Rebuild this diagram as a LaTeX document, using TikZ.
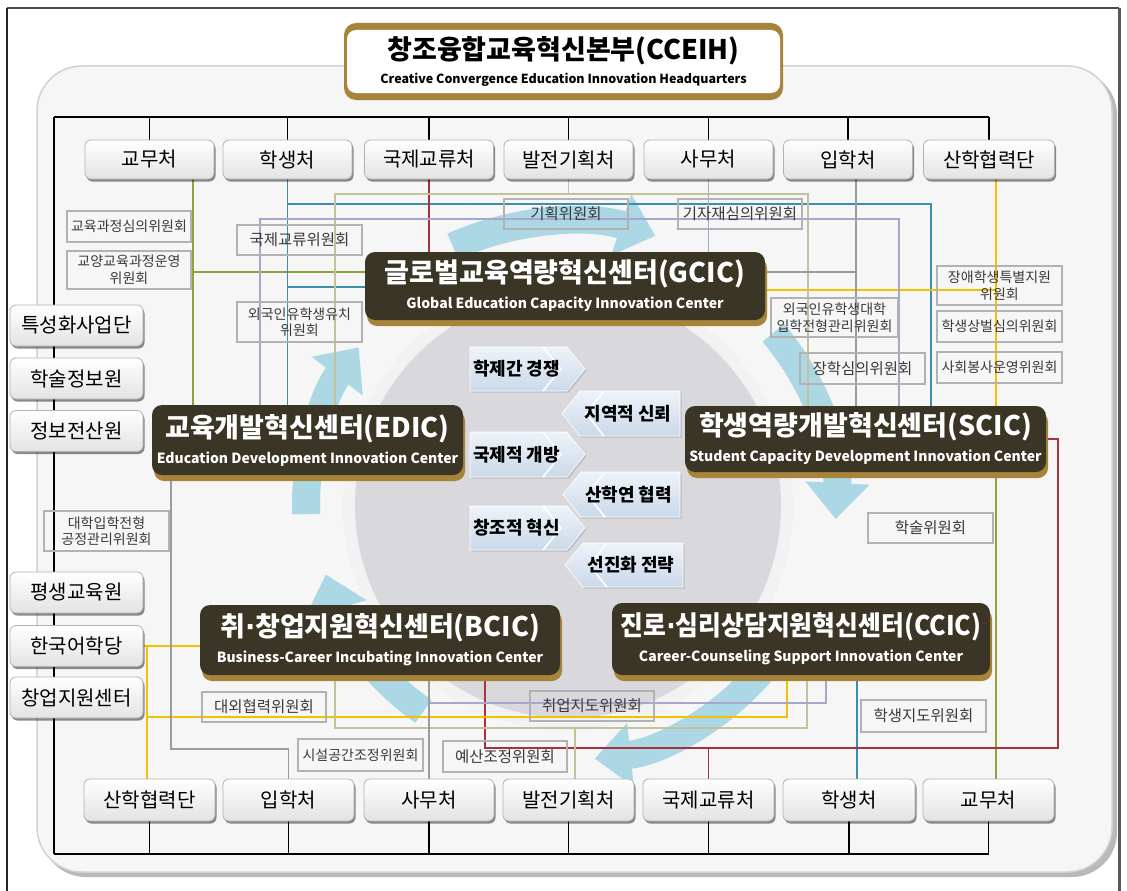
\documentclass[tikz,border=0pt]{standalone}
\usepackage{fontspec}
\setmainfont{Noto Sans CJK KR}
\newfontfamily\dotfont{DejaVu Sans}
\usetikzlibrary{arrows.meta,shadows,calc}
\definecolor{panelc}{HTML}{F6F6F6}
\definecolor{darkc}{HTML}{3A3524}
\definecolor{goldc}{HTML}{A8843A}
\definecolor{ringc}{HTML}{ACD7E5}
\definecolor{diskc}{HTML}{D8D8DD}
\definecolor{lnolive}{HTML}{8FA33C}
\definecolor{lnteal}{HTML}{3C8DB0}
\definecolor{lnred}{HTML}{A4333F}
\definecolor{lnyel}{HTML}{F2C200}
\definecolor{lnkhaki}{HTML}{C4C29A}
\definecolor{lnlav}{HTML}{A7A6CF}
\definecolor{lngray}{HTML}{9C9C9C}
\definecolor{chevtop}{HTML}{EEF3F9}
\definecolor{chevbot}{HTML}{CBD9EA}
\definecolor{commtext}{HTML}{3A3A3A}
\pgfdeclarelayer{back}
\pgfdeclarelayer{lines}
\pgfsetlayers{back,lines,main}
\newcommand\Ttl[1]{{\fontsize{27}{27}\selectfont\bfseries #1}}
\newcommand\Sbt[1]{{\fontsize{14}{16}\selectfont\bfseries #1}}
\newcommand\Mdot{{\dotfont\bfseries ·}}
\newcommand\ChevR[6]{%
  \path[chevfill] (#1,#3) -- (#2-18,#3) -- (#2,{(#3+#4)/2}) -- (#2-18,#4) -- (#1,#4) -- cycle;
  \draw[white, line width=1.6pt] (#2-42,#3) -- (#2-24,{(#3+#4)/2}) -- (#2-42,#4);
  \node[chevtxt] (#5) at ({(#1+#2-22)/2},{(#3+#4)/2}) {#6};}
\newcommand\ChevL[6]{%
  \path[chevfill] (#2,#3) -- (#1+18,#3) -- (#1,{(#3+#4)/2}) -- (#1+18,#4) -- (#2,#4) -- cycle;
  \draw[white, line width=1.6pt] (#1+42,#3) -- (#1+24,{(#3+#4)/2}) -- (#1+42,#4);
  \node[chevtxt] (#5) at ({(#1+#2+14)/2},{(#3+#4)/2}) {#6};}
\begin{document}
\begin{tikzpicture}[x=1pt,y=-1pt,
  btn/.style={rounded corners=6pt, draw=gray!60, line width=0.8pt, top color=white, bottom color=gray!22,
    drop shadow={shadow xshift=1.5pt, shadow yshift=-2.5pt, opacity=0.45, fill=black},
    inner sep=0pt, font=\fontsize{20}{24}\selectfont},
  comm/.style={draw=gray!60, line width=1.1pt, inner sep=0pt, align=center, text=commtext,
    font=\fontsize{14}{16.5}\selectfont},
  commS/.style={comm, font=\fontsize{15.5}{17}\selectfont},
  ctr/.style={rounded corners=10pt, fill=darkc, text=white, align=center, inner sep=0pt,
    drop shadow={shadow xshift=2pt, shadow yshift=-6pt, fill=goldc, opacity=1},
    font=\fontsize{14}{26}\selectfont},
  chevfill/.style={top color=chevtop, bottom color=chevbot, draw=white, line width=0.6pt,
    drop shadow={shadow xshift=1.5pt, shadow yshift=-1.5pt, opacity=0.3}},
  chevtxt/.style={inner sep=0pt, font=\fontsize{18}{20}\selectfont\bfseries},
  bus/.style={draw=black, line width=1.4pt},
  lnO/.style={draw=lnolive, line width=1.4pt},
  lnT/.style={draw=lnteal, line width=1.4pt},
  lnR/.style={draw=lnred, line width=1.4pt},
  lnY/.style={draw=lnyel, line width=1.6pt},
  lnK/.style={draw=lnkhaki, line width=1.4pt},
  lnV/.style={draw=lnlav, line width=1.4pt},
  lnG/.style={draw=lngray, line width=1.4pt},
  ringarr/.style={draw=ringc, line width=28pt, -{Triangle[width=62pt,length=36pt]}}
]
\useasboundingbox (0,0) rectangle (1127,891);

\begin{pgfonlayer}{back}
\fill[white] (0,0) rectangle (1127,891);
\draw[black!70, line width=1.5pt] (7,8) -- (1119,8);
\draw[black!85, line width=1.6pt] (7,8) -- (7,900);
\draw[gray!70!black, line width=3pt] (1119,8) -- (1119,900);
\fill[gray!55, rounded corners=45pt] (41,70) rectangle (1117,877);
\fill[panelc, rounded corners=45pt] (37,66) rectangle (1112,872);
\draw[gray!35, line width=1.5pt, rounded corners=45pt] (37,66) rectangle (1112,872);
\coordinate (c) at (568,505);
\fill[gray!10] (c) circle (225);
\fill[diskc] (c) circle (213);
\draw[ringarr] ($(c)+(-114:283)$) arc[start angle=-114, end angle=-72, radius=283];
\draw[ringarr] ($(c)+(-40:268)$) arc[start angle=-40, end angle=3, radius=268];
\draw[ringarr] ($(c)+(40:255)$) arc[start angle=40, end angle=84, radius=255];
\draw[ringarr] ($(c)+(-235:252)$) arc[start angle=-235, end angle=-196, radius=252];
\draw[ringarr] ($(c)+(-182:262)$) arc[start angle=-182, end angle=-143, radius=262];
\end{pgfonlayer}

% title
\fill[goldc, rounded corners=12pt] (344,23) rectangle (783,100);
\node[fill=white, rounded corners=9pt, minimum width=433pt, minimum height=63pt, inner sep=0pt, align=center,
  font=\fontsize{12.5}{24}\selectfont] (hq) at (563.5,61.5)
  {\Ttl{창조융합교육혁신본부(CCEIH)}\\{\bfseries Creative Convergence Education Innovation Headquarters}};

% chevrons
\ChevR{470}{585}{347}{391}{k1}{학제간 경쟁}
\ChevL{562}{680}{391}{436}{k2}{지역적 신뢰}
\ChevR{470}{585}{432}{477}{k3}{국제적 개방}
\ChevL{563}{680}{472}{517}{k4}{산학연 협력}
\ChevR{470}{585}{506}{550}{k5}{창조적 혁신}
\ChevL{565}{683}{543}{587}{k6}{선진화 전략}

% committees
\node[comm, minimum width=124pt, minimum height=31pt] (c1) at (129,226.5) {교육과정심의위원회};
\node[comm, minimum width=124pt, minimum height=38pt] (c2) at (129,270) {교양교육과정운영\\위원회};
\node[commS, minimum width=125pt, minimum height=30pt] (c3) at (299.5,240) {국제교류위원회};
\node[comm, minimum width=125pt, minimum height=40pt] (c4) at (299.5,322) {외국인유학생유치\\위원회};
\node[commS, minimum width=124pt, minimum height=30pt] (c5) at (566,214) {기획위원회};
\node[commS, minimum width=124pt, minimum height=30pt] (c6) at (740,214) {기자재심의위원회};
\node[comm, minimum width=125pt, minimum height=39pt] (c7) at (999.5,285.5) {장애학생특별지원\\위원회};
\node[comm, minimum width=125pt, minimum height=31pt] (c8) at (999.5,326.5) {학생상벌심의위원회};
\node[comm, minimum width=125pt, minimum height=31pt] (c9) at (999.5,367.5) {사회봉사운영위원회};
\node[comm, minimum width=127pt, minimum height=39pt] (c10) at (834.5,317.5) {외국인유학생대학\\입학전형관리위원회};
\node[commS, minimum width=125pt, minimum height=31pt] (c11) at (862.5,368.5) {장학심의위원회};
\node[commS, minimum width=125pt, minimum height=30pt] (c12) at (930.5,528) {학술위원회};
\node[commS, minimum width=125pt, minimum height=32pt] (c13) at (923.5,716) {학생지도위원회};
\node[comm, minimum width=125pt, minimum height=40pt] (c14) at (106.5,531) {대학입학전형\\공정관리위원회};
\node[commS, minimum width=124pt, minimum height=30pt] (c15) at (264,707) {대외협력위원회};
\node[comm, minimum width=125pt, minimum height=32pt] (c16) at (360.5,755) {시설공간조정위원회};
\node[commS, minimum width=124pt, minimum height=31pt] (c17) at (505,756.5) {예산조정위원회};
\node[commS, minimum width=124pt, minimum height=30pt] (c18) at (592,706) {취업지도위원회};

% centres
\node[ctr, minimum width=400pt, minimum height=68pt] (gcic) at (565,286)
  {\Ttl{글로벌교육역량혁신센터(GCIC)}\\\Sbt{Global Education Capacity Innovation Center}};
\node[ctr, minimum width=311pt, minimum height=70pt] (edic) at (307.5,440)
  {\Ttl{교육개발혁신센터(EDIC)}\\\Sbt{Education Development Innovation Center}};
\node[ctr, minimum width=361pt, minimum height=66pt] (scic) at (865.5,439)
  {\Ttl{학생역량개발혁신센터(SCIC)}\\\Sbt{Student Capacity Development Innovation Center}};
\node[ctr, minimum width=360pt, minimum height=70pt] (bcic) at (380,640)
  {\Ttl{취\Mdot 창업지원혁신센터(BCIC)}\\\Sbt{Business-Career Incubating Innovation Center}};
\node[ctr, minimum width=378pt, minimum height=72pt] (ccic) at (801,639)
  {\scalebox{0.92}[1]{\Ttl{진로\Mdot 심리상담지원혁신센터(CCIC)}}\\\Sbt{Career-Counseling Support Innovation Center}};

% top offices
\node[btn, minimum width=129pt, minimum height=39pt] (t1) at (149.5,159.5) {교무처};
\node[btn, minimum width=129pt, minimum height=39pt] (t2) at (287.5,159.5) {학생처};
\node[btn, minimum width=129pt, minimum height=39pt] (t3) at (429,159.5) {국제교류처};
\node[btn, minimum width=129pt, minimum height=39pt] (t4) at (568.5,159.5) {발전기획처};
\node[btn, minimum width=129pt, minimum height=39pt] (t5) at (708.5,159.5) {사무처};
\node[btn, minimum width=129pt, minimum height=39pt] (t6) at (848,159.5) {입학처};
\node[btn, minimum width=131pt, minimum height=39pt] (t7) at (989,159.5) {산학협력단};
% bottom offices
\node[btn, minimum width=131pt, minimum height=42pt] (b1) at (149.5,800) {산학협력단};
\node[btn, minimum width=131pt, minimum height=42pt] (b2) at (288.5,800) {입학처};
\node[btn, minimum width=130pt, minimum height=42pt] (b3) at (429,800) {사무처};
\node[btn, minimum width=131pt, minimum height=42pt] (b4) at (568.5,800) {발전기획처};
\node[btn, minimum width=131pt, minimum height=42pt] (b5) at (708.5,800) {국제교류처};
\node[btn, minimum width=132pt, minimum height=42pt] (b6) at (849,800) {학생처};
\node[btn, minimum width=131pt, minimum height=42pt] (b7) at (988.5,800) {교무처};
% left units
\node[btn, minimum width=133pt, minimum height=41pt] (l1) at (76.5,325.5) {특성화사업단};
\node[btn, minimum width=133pt, minimum height=41pt] (l2) at (76.5,378.5) {학술정보원};
\node[btn, minimum width=133pt, minimum height=41pt] (l3) at (76.5,431) {정보전산원};
\node[btn, minimum width=133pt, minimum height=41pt] (l4) at (76.5,592.5) {평생교육원};
\node[btn, minimum width=133pt, minimum height=41pt] (l5) at (76.5,646) {한국어학당};
\node[btn, minimum width=133pt, minimum height=41pt] (l6) at (76.5,697.5) {창업지원센터};

\begin{pgfonlayer}{lines}
% black buses
\coordinate (tbL) at (54,117);
\coordinate (bbL) at (54,854);
\draw[bus] (tbL) -- (t7.north |- tbL);
\draw[bus] (tbL) -- (bbL);
\draw[bus] (bbL) -- (b7.south |- bbL);
\foreach \i in {1,...,7}{
  \draw[bus] (t\i.north) -- (t\i.north |- tbL);
  \draw[bus] (b\i.south) -- (b\i.south |- bbL);
}
% olive
\draw[lnO] (t1.south -| 193,0) -- (edic.north -| 193,0);
\coordinate (oj) at (193,272);
\draw[lnO] (oj) -- (gcic.west |- oj);
\draw[lnO] (scic.south -| 996,0) -- (b7.north -| 996,0);
% teal
\draw[lnT] (t2.south) -- (edic.north -| t2.south);
\coordinate (tj1) at (287.5,204);
\draw[lnT] (tj1) -| (scic.north -| 931,0);
\coordinate (tj2) at (287.5,287);
\draw[lnT] (tj2) -- (gcic.west |- tj2);
\draw[lnT] (ccic.south -| 857,0) -- (b6.north -| 857,0);
% red
\draw[lnR] (t3.south) -- (gcic.north -| t3.south);
\draw[lnR] (bcic.south -| 485,0) |- (1058,748) |- (scic.east);
\draw[lnR] (b5.north) -- (b5.north |- 0,748);
% yellow
\draw[lnY] (t7.south -| 996,0) -- (scic.north -| 996,0);
\coordinate (yj1) at (996,290);
\draw[lnY] (yj1) -- (gcic.east |- yj1);
\draw[lnY] (l5.east) -- (bcic.west |- l5.east);
\coordinate (yj2) at (147,646);
\draw[lnY] (yj2) -- (b1.north -| yj2);
\coordinate (yj3) at (147,717);
\draw[lnY] (yj3) -| (ccic.south -| 787,0);
% khaki
\coordinate (kj1) at (568.5,194);
\draw[lnK] (t4.south) -- (kj1);
\draw[lnK] (edic.north -| 335,0) |- (808,194) -- (scic.north -| 808,0);
\draw[lnK] (bcic.south -| 335,0) |- (807,728) -- (ccic.south -| 807,0);
\coordinate (kj2) at (575,728);
\draw[lnK] (b4.north -| kj2) -- (kj2);
% lavender
\draw[lnV] (t5.south) -- (gcic.north -| t5.south);
\draw[lnV] (edic.north -| 260,0) |- (899,219) -- (scic.north -| 899,0);
\coordinate (vj1) at (429,703);
\draw[lnV] (vj1) -| (ccic.south -| 826,0);
% gray
\draw[lnG] (b3.north) -- (bcic.south -| b3.north);
\draw[lnG] (t6.south -| 856,0) -- (scic.north -| 856,0);
\coordinate (gj1) at (856,272);
\draw[lnG] (gj1) -- (gcic.east |- gj1);
\draw[lnG] (b2.north) |- (171,749) -- (edic.south -| 171,0);
\end{pgfonlayer}
\end{tikzpicture}
\end{document}
